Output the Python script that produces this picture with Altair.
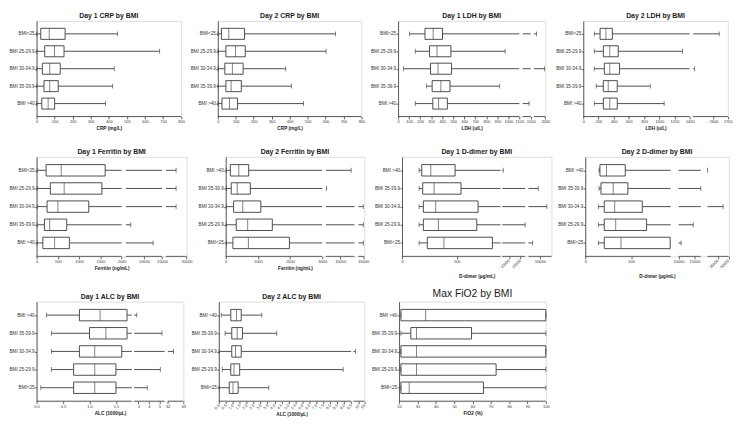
import altair as alt
import pandas as pd

BMI = ["BMI<25", "BMI 25-29.9", "BMI 30-34.9", "BMI 35-39.9", "BMI >40"]
BMI_REV = BMI[::-1]

# ---- Day 1 CRP (order BMI)
crp1_lo = [1, 1, 1, 1, 1]
crp1_q1 = [23, 45, 32, 41, 29]
crp1_med = [70, 99, 73, 73, 64]
crp1_q3 = [158, 152, 131, 120, 100]
crp1_hi = [448, 681, 430, 421, 382]
crp_ticks = [0, 100, 200, 300, 400, 500, 600, 700, 800]

# ---- Day 2 CRP (order BMI)
crp2_lo = [1, 1, 1, 1, 1]
crp2_q1 = [20, 45, 39, 45, 23]
crp2_med = [61, 99, 81, 74, 65]
crp2_q3 = [149, 153, 141, 131, 110]
crp2_hi = [656, 603, 378, 410, 477]

# ---- Day 1 LDH (order BMI)
ldh1_lo = [103, 156, 50, 259, 156]
ldh1_q1 = [244, 285, 294, 309, 315]
ldh1_med = [318, 353, 362, 388, 368]
ldh1_q3 = [403, 479, 485, 471, 447]
ldh1_hi = [1691, 971, 1977, 921, 1440]
ldh1_ticks = [0, 100, 200, 300, 400, 500, 600, 700, 800, 900, 1000, 1100, 1500, 2000]

# ---- Day 2 LDH (order BMI)
ldh2_lo = [145, 145, 145, 170, 145]
ldh2_q1 = [221, 264, 277, 264, 264]
ldh2_med = [298, 349, 349, 328, 349]
ldh2_q3 = [383, 460, 477, 447, 447]
ldh2_hi = [2640, 1306, 2470, 881, 1064]
ldh2_ticks = [0, 200, 400, 600, 800, 1000, 1200, 1400, 2600, 2700]

# ---- Day 1 Ferritin (order BMI)
fer1_lo = [15, 15, 15, 15, 15]
fer1_q1 = [224, 324, 247, 185, 147]
fer1_med = [579, 649, 502, 309, 425]
fer1_q3 = [1614, 1537, 1228, 710, 772]
fer1_hi = [27380, 27380, 27380, 6360, 12550]
fer1_ticks = [0, 500, 1000, 1500, 2000, 10000, 15000, 35000]

# ---- Day 2 Ferritin (order BMI_REV)
fer2_lo = [20, 20, 20, 20, 20]
fer2_q1 = [143, 173, 245, 327, 224]
fer2_med = [408, 357, 531, 684, 704]
fer2_q3 = [714, 765, 1092, 1449, 1980]
fer2_hi = [13850, 5200, 35000, 35000, 35000]
fer2_ticks = [0, 1000, 2000, 3000, 10000, 35000]

# ---- Day 1 D-dimer (order BMI_REV)
dd1_lo = [156, 156, 156, 156, 156]
dd1_q1 = [180, 189, 195, 195, 231]
dd1_med = [263, 293, 308, 332, 383]
dd1_q3 = [485, 539, 695, 683, 826]
dd1_hi = [7430, 48570, 56000, 17000, 43700]
dd1_ticks = [0, 500, 10000, 15000, 50000]
dd1_rot = [10000, 15000]

# ---- Day 2 D-dimer (order BMI_REV)
dd2_lo = [150, 150, 143, 143, 143]
dd2_q1 = [160, 171, 207, 207, 207]
dd2_med = [232, 304, 321, 332, 389]
dd2_q3 = [436, 464, 621, 668, 925]
dd2_hi = [20200, 17000, 42150, 14630, 10820]
dd2_ticks = [0, 500, 10000, 15000, 35000, 50000]
dd2_rot = [35000, 50000]

# ---- Day 1 ALC (order BMI_REV)
alc1_lo = [0.19, 0.28, 0.28, 0.28, 0.08]
alc1_q1 = [0.81, 1.0, 0.81, 0.7, 0.7]
alc1_med = [1.2, 1.31, 1.1, 1.1, 1.1]
alc1_q3 = [1.71, 1.71, 1.61, 1.5, 1.5]
alc1_hi = [2.85, 5.25, 62.36, 5.09, 3.85]
alc1_ticks = [0, 0.5, 1.0, 1.5, 3, 4, 5, 62, 63]

# ---- Day 2 ALC (order BMI_REV)
alc2_lo = [0.18, 0.45, 0.02, 0.25, 0.02]
alc2_q1 = [0.86, 0.93, 0.93, 0.86, 0.75]
alc2_med = [1.27, 1.32, 1.2, 1.09, 1.02]
alc2_q3 = [1.61, 1.70, 1.61, 1.5, 1.39]
alc2_hi = [3.09, 4.16, 61.36, 8.93, 3.59]
alc2_ticks = [0, 0.5, 1.0, 1.5, 2.0, 2.5, 3.0, 3.5, 4.0, 4.5, 5.0, 5.5, 6.0, 6.5,
              7.0, 7.5, 8.0, 8.5, 9.0, 9.5, 62, 63]

# ---- Max FiO2 (order BMI_REV)
fio_lo = [21, 21, 21, 21, 21]
fio_q1 = [21, 26.4, 21, 21, 21]
fio_med = [34.5, 29.5, 29.5, 29.5, 25.5]
fio_q3 = [100, 59.5, 100, 72.9, 66]
fio_hi = [100, 100, 100, 100, 100]
fio_ticks = [20, 30, 40, 50, 60, 70, 80, 90, 100]

INK = "#3a3a3a"
LBL = "#333333"
FONT = "Liberation Sans"


def panel(title, xtitle, cats, lo, q1, med, q3, hi, segs, px, ticks,
          fmt="d", label_expr=None, rot=None, label_angle=None,
          title_size=7, title_weight="bold", title_pad=2, f=1.0, H=101):
    domain = [v for s in segs for v in s]
    rng = [round(v * f, 2) for p in px for v in p]
    W = rng[-1]
    xs = alt.Scale(domain=domain, range=rng, nice=False, zero=False)
    kw = dict(values=ticks, domain=False, grid=False, tickSize=2.5, tickColor=INK,
              tickWidth=0.8, labelFontSize=4, labelColor=LBL, labelFont=FONT,
              labelPadding=1, labelOverlap=False, labelFlush=False, format=fmt,
              title=xtitle, titleFont=FONT, titleFontSize=4.8, titleFontWeight="bold",
              titleColor="#222222", titlePadding=title_pad)
    if label_expr:
        kw["labelExpr"] = label_expr
    if label_angle is not None:
        kw.update(labelAngle=label_angle, labelAlign="right", labelBaseline="middle")
    xaxis = alt.Axis(**kw)

    def X(fld):
        return alt.X(f"{fld}:Q", scale=xs, axis=xaxis)

    box_h = round(H * 0.115, 1)
    yenc = alt.Y("cat:N", sort=cats, title=None,
                 scale=alt.Scale(type="point", padding=0.74),
                 axis=alt.Axis(domain=True, domainColor=INK, domainWidth=0.8,
                               tickSize=2, tickColor=INK, tickWidth=0.8,
                               labelFontSize=4.7, labelColor=LBL, labelFont=FONT,
                               labelPadding=0.5, grid=False))

    df = pd.DataFrame({"cat": cats, "lo": lo, "q1": q1, "med": med, "q3": q3, "hi": hi})

    pieces = []
    for c, a, b, c3, d in zip(cats, lo, q1, q3, hi):
        for s, e in ((a, b), (c3, d)):
            for d0, d1 in segs:
                s2, e2 = max(s, d0), min(e, d1)
                if e2 > s2:
                    pieces.append({"cat": c, "a": s2, "b": e2})
    wdf = pd.DataFrame(pieces)
    sdf = pd.DataFrame({"a": [s[0] for s in segs], "b": [s[1] for s in segs]})

    axis_line = alt.Chart(sdf).mark_rule(color=INK, strokeWidth=0.8).encode(
        x=X("a"), x2="b", y=alt.value(H))
    whisk = alt.Chart(wdf).mark_rule(color=INK, strokeWidth=0.9).encode(
        x=X("a"), x2="b", y=yenc)
    base = alt.Chart(df)
    box = base.mark_bar(size=box_h, fill="white", stroke=INK, strokeWidth=0.9).encode(
        x=X("q1"), x2="q3", y=yenc)
    medm = base.mark_tick(size=box_h, thickness=0.9, color=INK).encode(x=X("med"), y=yenc)
    cap_lo = base.mark_tick(size=5, thickness=0.9, color=INK).encode(x=X("lo"), y=yenc)
    cap_hi = base.mark_tick(size=5, thickness=0.9, color=INK).encode(x=X("hi"), y=yenc)
    layers = [axis_line, whisk, box, medm, cap_lo, cap_hi]
    if rot:
        rdf = pd.DataFrame({"v": rot, "t": [str(int(v)) for v in rot]})
        layers.append(alt.Chart(rdf).mark_text(angle=315, align="right", baseline="middle",
                                               fontSize=4, font=FONT, color=LBL).encode(
            x=X("v"), y=alt.value(H + 4), text="t:N"))
    return alt.layer(*layers).properties(
        width=W, height=H,
        title=alt.TitleParams(text=title, fontSize=title_size, fontWeight=title_weight,
                              font=FONT, anchor="middle", frame="group", offset=2,
                              color="#1a1a1a"))


F1 = 0.985
H1 = 97
p_crp1 = panel("Day 1 CRP by BMI", "CRP (mg/L)", BMI, crp1_lo, crp1_q1, crp1_med, crp1_q3, crp1_hi,
               [(0, 800)], [(0, 149)], crp_ticks, f=F1, H=H1)
p_crp2 = panel("Day 2 CRP by BMI", "CRP (mg/L)", BMI, crp2_lo, crp2_q1, crp2_med, crp2_q3, crp2_hi,
               [(0, 800)], [(0, 148)], crp_ticks, f=F1, H=H1)
p_ldh1 = panel("Day 1 LDH by BMI", "LDH (u/L)", BMI, ldh1_lo, ldh1_q1, ldh1_med, ldh1_q3, ldh1_hi,
               [(0, 1100), (1200, 1500), (1600, 2000)],
               [(0, 125), (128.3, 136.7), (140, 151.7)], ldh1_ticks, f=F1, H=H1)
p_ldh2 = panel("Day 2 LDH by BMI", "LDH (u/L)", BMI, ldh2_lo, ldh2_q1, ldh2_med, ldh2_q3, ldh2_hi,
               [(0, 1400), (2460, 2700)], [(0, 109.7), (113.3, 149)], ldh2_ticks, f=F1, H=H1)

p_fer1 = panel("Day 1 Ferritin by BMI", "Ferritin (ng/mL)", BMI, fer1_lo, fer1_q1, fer1_med, fer1_q3, fer1_hi,
               [(0, 2000), (5000, 15000), (20000, 35000)],
               [(0, 86.3), (90.7, 127.3), (131.3, 152.3)], fer1_ticks)
p_fer2 = panel("Day 2 Ferritin by BMI", "Ferritin (ng/mL)", BMI_REV, fer2_lo, fer2_q1, fer2_med, fer2_q3, fer2_hi,
               [(0, 3000), (5000, 15000), (25000, 37000)],
               [(0, 98), (101.7, 130.7), (134.7, 140.7)], fer2_ticks)
p_dd1 = panel("Day 1 D-dimer by BMI", "D-dimer (\u00b5g/mL)", BMI_REV, dd1_lo, dd1_q1, dd1_med, dd1_q3, dd1_hi,
              [(0, 900), (7000, 17000), (40000, 60000)],
              [(0, 100), (101.7, 125), (128.3, 151.7)], dd1_ticks,
              label_expr="(datum.value >= 5000 && datum.value <= 20000) ? '' : datum.label",
              rot=dd1_rot, title_pad=10)
p_dd2 = panel("Day 2 D-dimer by BMI", "D-dimer (\u00b5g/mL)", BMI_REV, dd2_lo, dd2_q1, dd2_med, dd2_q3, dd2_hi,
              [(0, 930), (10000, 17000), (20000, 50000)],
              [(0, 86.7), (94.7, 117.3), (124, 145.7)], dd2_ticks,
              label_expr="datum.value >= 20000 ? '' : datum.label",
              rot=dd2_rot, title_pad=10)

p_alc1 = panel("Day 1 ALC by BMI", "ALC (1000/\u00b5L)", BMI_REV, alc1_lo, alc1_q1, alc1_med, alc1_q3, alc1_hi,
               [(0, 1.8), (2.6, 5.5), (62, 63)],
               [(0, 96.7), (99, 130), (133.3, 149)], alc1_ticks, fmt=".1f",
               label_expr="datum.value < 2 ? format(datum.value, '.1f') : format(datum.value, 'd')")
p_alc2 = panel("Day 2 ALC by BMI", "ALC (1000/\u00b5L)", BMI_REV, alc2_lo, alc2_q1, alc2_med, alc2_q3, alc2_hi,
               [(0, 9.5), (61, 63)], [(0, 134.3), (136.7, 147.7)], alc2_ticks, fmt=".1f",
               label_expr="datum.value < 10 ? format(datum.value, '.1f') : format(datum.value, 'd')",
               label_angle=315)
p_fio = panel("Max FiO2 by BMI", "FiO2 (%)", BMI_REV, fio_lo, fio_q1, fio_med, fio_q3, fio_hi,
              [(20, 100)], [(0, 149)], fio_ticks, title_size=10.5, title_weight="normal")

row1 = alt.hconcat(p_crp1, p_crp2, p_ldh1, p_ldh2, spacing=4).resolve_scale(x="independent", y="independent")
row2 = alt.hconcat(p_fer1, p_fer2, p_dd1, p_dd2, spacing=4).resolve_scale(x="independent", y="independent")
row3 = alt.hconcat(p_alc1, p_alc2, p_fio, spacing=4).resolve_scale(x="independent", y="independent")

top = alt.vconcat(row1, row2, spacing=16).resolve_scale(x="independent", y="independent")
chart = alt.vconcat(top, row3, spacing=10).resolve_scale(
    x="independent", y="independent"
).properties(
    padding={"left": 0, "top": 0, "right": 0, "bottom": 0}
).configure_view(stroke=None).configure(background="white")

chart.save("out.html", embed_options={"renderer": "svg", "actions": False})
